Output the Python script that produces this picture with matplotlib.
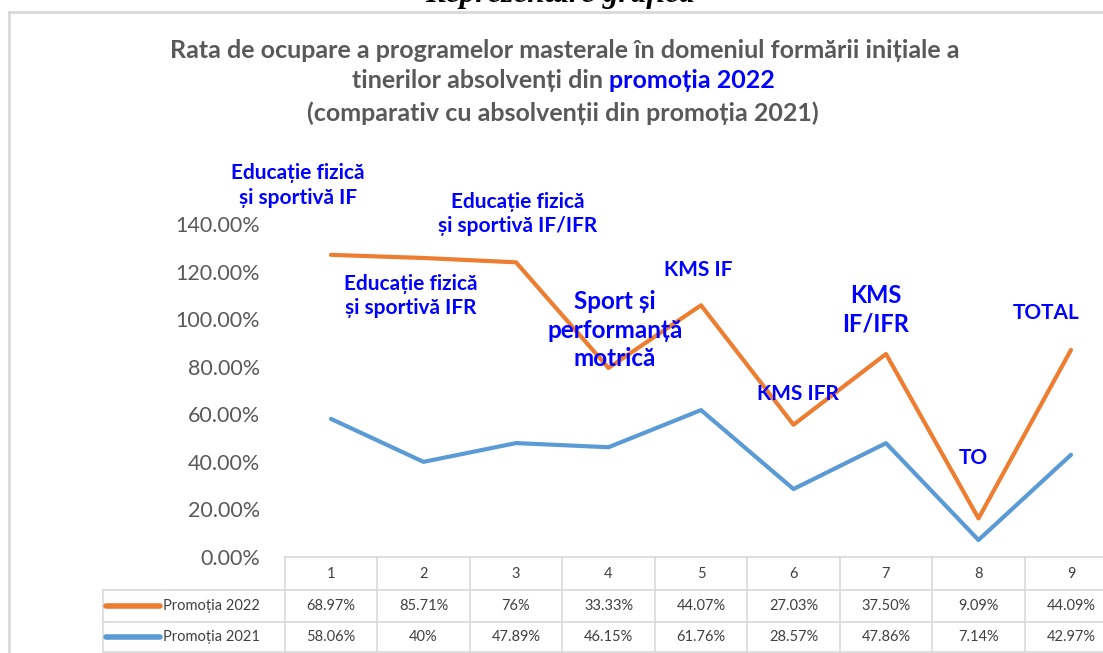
import numpy as np
import matplotlib
matplotlib.use("Agg")
import matplotlib.pyplot as plt
from matplotlib.lines import Line2D
from matplotlib.transforms import blended_transform_factory

categories = ["1", "2", "3", "4", "5", "6", "7", "8", "9"]
promotia_2022 = [68.97, 85.71, 76, 33.33, 44.07, 27.03, 37.50, 9.09, 44.09]
promotia_2021 = [58.06, 40, 47.89, 46.15, 61.76, 28.57, 47.86, 7.14, 42.97]
text_2022 = ["68.97%", "85.71%", "76%", "33.33%", "44.07%", "27.03%", "37.50%", "9.09%", "44.09%"]
text_2021 = ["58.06%", "40%", "47.89%", "46.15%", "61.76%", "28.57%", "47.86%", "7.14%", "42.97%"]

# program names written over the chart (x in category units, y in %)
program_names = ["Educație fizică\nși sportivă IF", "Educație fizică\nși sportivă IF/IFR",
                 "Educație fizică\nși sportivă IFR", "Sport și\nperformanță\nmotrică",
                 "KMS IF", "KMS\nIF/IFR", "KMS IFR", "TO", "TOTAL"]
name_x = [0.64, 3.02, 1.86, 4.07, 4.97, 6.89, 6.05, 7.94, 8.73]
name_y = [156.2, 144.2, 109.7, 95.4, 120.7, 103.8, 68.5, 41.6, 102.6]
name_size = [15, 15, 15, 17.5, 15, 17, 15, 15, 15]

W, H = 1103, 653
ORANGE = "#ED7D31"
BLUE = "#5B9BD5"
GRID = "#D9D9D9"
GRAY = "#595959"
FONT = ["Lato", "DejaVu Sans"]

plt.rcParams["font.family"] = FONT


def fx(px):
    return px / W


def fy(py):
    return 1 - py / H


fig = plt.figure(figsize=(W / 100, H / 100), dpi=100)
fig.patch.set_facecolor("white")

# chart frame (cut on the right and bottom like the screenshot)
fig.add_artist(Line2D([fx(9), fx(9)], [fy(12), fy(H)], color=GRID, lw=2))
fig.add_artist(Line2D([fx(9), 1], [fy(12), fy(12)], color=GRID, lw=2))

# heading cut by the top of the picture
fig.text(fx(560), fy(2), "Reprezentare grafică", ha="center", va="baseline",
         family="Liberation Serif", style="italic", weight="bold", fontsize=22.5)

# title
TS = 18
fig.text(fx(565), fy(50), "Rata de ocupare a programelor masterale în domeniul formării inițiale a",
         ha="center", va="center", color=GRAY, weight="bold", fontsize=TS)
renderer = fig.canvas.get_renderer()
t_gray = fig.text(0, fy(81), "tinerilor absolvenți din ", ha="left", va="center",
                  color=GRAY, weight="bold", fontsize=TS)
t_blue = fig.text(0, fy(81), "promoția 2022", ha="left", va="center",
                  color="blue", weight="bold", fontsize=TS)
w_gray = t_gray.get_window_extent(renderer).width
w_blue = t_blue.get_window_extent(renderer).width
start = 563 - (w_gray + w_blue) / 2
t_gray.set_x(fx(start))
t_blue.set_x(fx(start + w_gray))
fig.text(fx(563), fy(113), "(comparativ cu absolvenții din promoția 2021)",
         ha="center", va="center", color=GRAY, weight="bold", fontsize=TS)

# plot area; the right end runs past the picture like in the reference
ax = fig.add_axes([fx(284.75), fy(557), 832.5 / W, (557 - 224) / H])
x = np.arange(1, len(categories) + 1)
y2021 = np.array(promotia_2021)
y2022 = y2021 + np.array(promotia_2022)   # stacked line chart
ax.plot(x, y2021, color=BLUE, lw=3, solid_capstyle="round", solid_joinstyle="round", clip_on=False)
ax.plot(x, y2022, color=ORANGE, lw=3, solid_capstyle="round", solid_joinstyle="round", clip_on=False)
ax.set_xlim(0.5, len(categories) + 0.5)
ax.set_ylim(0, 140)
ax.set_yticks(np.arange(0, 141, 20))
ax.set_yticklabels([f"{v:.2f}%" for v in np.arange(0, 141, 20)], color=GRAY, fontsize=15.5)
ax.tick_params(axis="y", length=0, pad=18)
ax.set_xticks([])
for s in ["top", "right", "left"]:
    ax.spines[s].set_visible(False)
ax.spines["bottom"].set_color(GRID)
ax.spines["bottom"].set_linewidth(1.2)

for name, nx, ny, ns in zip(program_names, name_x, name_y, name_size):
    ax.text(nx, ny, name, ha="center", va="center", color="blue", weight="bold",
            fontsize=ns, linespacing=1.3, clip_on=False)

# data table under the axis
tr = blended_transform_factory(ax.transData, fig.transFigure)
row_y = [557, 590, 622, 652]
for b in np.arange(0.5, len(categories) + 1, 1):
    ax.add_line(Line2D([b, b], [fy(557), fy(652)], transform=tr, color=GRID, lw=1.2, clip_on=False))
for py in row_y[1:]:
    fig.add_artist(Line2D([fx(103), 1], [fy(py), fy(py)], color=GRID, lw=1.2))
fig.add_artist(Line2D([fx(103), fx(103)], [fy(590), fy(652)], color=GRID, lw=1.2))

for i, c in enumerate(categories):
    ax.text(x[i], fy(574), c, transform=tr, ha="center", va="center", color="#404040", fontsize=10.5)
    ax.text(x[i], fy(606), text_2022[i], transform=tr, ha="center", va="center", color="#404040", fontsize=10.5)
    ax.text(x[i], fy(637), text_2021[i], transform=tr, ha="center", va="center", color="#404040", fontsize=10.5)

for py, col, lab in [(606, ORANGE, "Promoția 2022"), (637, BLUE, "Promoția 2021")]:
    fig.add_artist(Line2D([fx(106), fx(160)], [fy(py), fy(py)], color=col, lw=4, solid_capstyle="round"))
    fig.text(fx(163), fy(py), lab, ha="left", va="center", color="#404040", fontsize=10.5)

plt.savefig("out.png", dpi=100)
